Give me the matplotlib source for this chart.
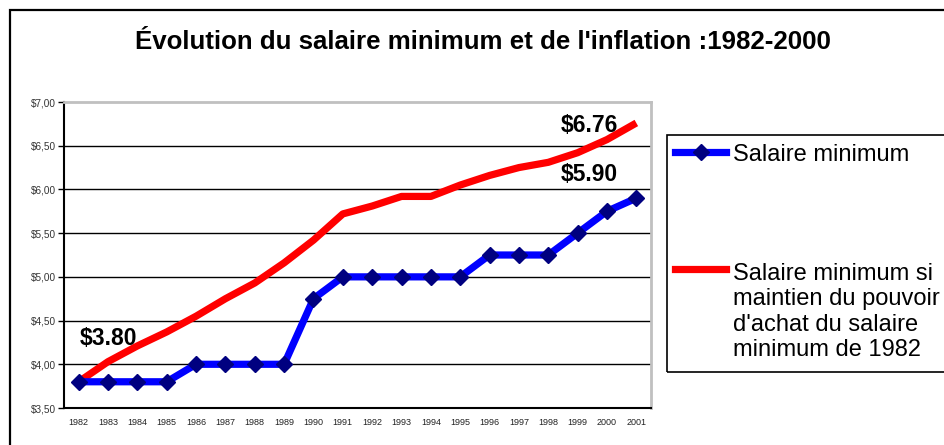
import numpy as np
import matplotlib
matplotlib.use("Agg")
import matplotlib.pyplot as plt
from matplotlib.lines import Line2D
from matplotlib.patches import Rectangle

plt.rcParams['font.family'] = ['Liberation Sans', 'DejaVu Sans']

# data
years = [str(y) for y in range(1982, 2002)]
salaire_min = [3.80, 3.80, 3.80, 3.80, 4.00, 4.00, 4.00, 4.00, 4.75, 5.00,
               5.00, 5.00, 5.00, 5.00, 5.25, 5.25, 5.25, 5.50, 5.75, 5.90]
salaire_inflation = [3.80, 4.03, 4.21, 4.37, 4.55, 4.75, 4.93, 5.16, 5.42, 5.72,
                     5.81, 5.92, 5.92, 6.05, 6.16, 6.25, 6.31, 6.42, 6.57, 6.76]
yticks = [3.5, 4.0, 4.5, 5.0, 5.5, 6.0, 6.5, 7.0]
ytick_labels = ['$3,50', '$4,00', '$4,50', '$5,00', '$5,50', '$6,00', '$6,50', '$7,00']
title = "Évolution du salaire minimum et de l'inflation :1982-2000"
label_blue = "Salaire minimum"
label_red = "Salaire minimum si\nmaintien du pouvoir\nd'achat du salaire\nminimum de 1982"

W, H = 944, 445
fig = plt.figure(figsize=(W / 100, H / 100), dpi=100)
ax = fig.add_axes([64 / W, 1 - 408 / H, (651 - 64) / W, (408 - 102) / H])

x = np.arange(len(years))
ax.plot(x, salaire_inflation, color='#ff0000', lw=5.2, solid_capstyle='butt', zorder=3)
ax.plot(x, salaire_min, color='#0000ff', lw=5.2, marker='D', ms=8.5,
        mfc='#000080', mec='#000080', zorder=4)

ax.set_xlim(-0.5, len(years) - 0.5)
ax.set_ylim(3.5, 7.0)
ax.set_xticks(x)
ax.set_xticklabels(years, fontsize=6.5, color='#222222')
ax.tick_params(axis='x', length=0, pad=7)
ax.set_yticks(yticks)
ax.set_yticklabels(ytick_labels, fontsize=7.2, color='#333333')
ax.tick_params(axis='y', length=4, width=1, pad=2)
for v in yticks[1:-1]:
    ax.axhline(v, color='black', lw=1, zorder=1)

ax.spines['left'].set_linewidth(1.5)
ax.spines['bottom'].set_linewidth(1.5)
ax.spines['top'].set_color('#c0c0c0')
ax.spines['right'].set_color('#c0c0c0')
ax.spines['top'].set_linewidth(2)
ax.spines['right'].set_linewidth(2)

ax.text(1.03, 4.30, '$3.80', fontsize=16.5, fontweight='bold', ha='center', va='center', zorder=5)
ax.text(17.4, 6.73, '$6.76', fontsize=16.5, fontweight='bold', ha='center', va='center', zorder=5)
ax.text(17.4, 6.17, '$5.90', fontsize=16.5, fontweight='bold', ha='center', va='center', zorder=5)

fig.text(483 / W, 1 - 42 / H, title, fontsize=18.6, fontweight='bold', ha='center', va='center')

# outer frame (runs off the right and bottom edges)
fig.add_artist(Rectangle((10 / W, -0.2), 1.2, 1.2 - 9.5 / H, transform=fig.transFigure,
                         fill=False, ec='black', lw=1.6))

# legend box, drawn by hand
fig.add_artist(Rectangle((667 / W, 1 - 372 / H), 0.5, (372 - 135) / H, transform=fig.transFigure,
                         fill=False, ec='black', lw=1.2))
fig.add_artist(Line2D([675 / W, 726 / W], [1 - 152 / H] * 2, transform=fig.transFigure,
                      color='#0000ff', lw=5.2))
fig.add_artist(Line2D([700.5 / W], [1 - 152 / H], transform=fig.transFigure, marker='D', ms=8.5,
                      mfc='#000080', mec='#000080'))
fig.add_artist(Line2D([675 / W, 726 / W], [1 - 269 / H] * 2, transform=fig.transFigure,
                      color='#ff0000', lw=5.2))
fig.text(733 / W, 1 - 155 / H, label_blue, fontsize=17, ha='left', va='center')
fig.text(733 / W, 1 - 263 / H, label_red, fontsize=17, ha='left', va='top', linespacing=1.2)

fig.savefig('out.png', dpi=100)
